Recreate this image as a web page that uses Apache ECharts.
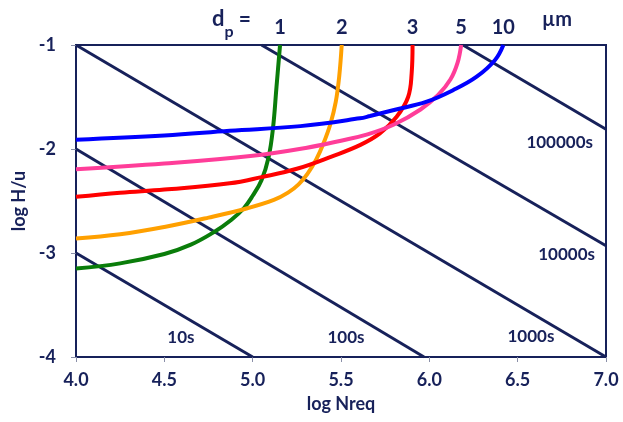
<!DOCTYPE html>
<html>
<head>
<meta charset="utf-8">
<script src="https://cdn.jsdelivr.net/npm/echarts@6.0.0/dist/echarts.min.js"></script>
<style>html,body{margin:0;padding:0;background:#fff;}#c{width:623px;height:422px;}</style>
</head>
<body>
<div id="c"></div>
<script>
// ---- data (log Nreq, log H/u) ----
var xTicks = [4.0, 4.5, 5.0, 5.5, 6.0, 6.5, 7.0];
var yTicks = [-4, -3, -2, -1];
var particleSizes = ['1', '2', '3', '5', '10'];
var curve1 = [[4.0,-3.15],[4.25,-3.10],[4.5,-3.01],[4.65,-2.92],[4.78,-2.80],[4.88,-2.68],[4.95,-2.57],[5.0,-2.45],[5.05,-2.30],[5.09,-2.08],[5.115,-1.80],[5.135,-1.40],[5.155,-1.0]];
var curve2 = [[4.0,-2.86],[4.25,-2.82],[4.5,-2.75],[4.75,-2.66],[4.97,-2.57],[5.12,-2.49],[5.2,-2.42],[5.26,-2.34],[5.31,-2.24],[5.36,-2.10],[5.40,-1.95],[5.44,-1.76],[5.47,-1.55],[5.49,-1.30],[5.504,-1.0]];
var curve3 = [[4.0,-2.46],[4.25,-2.42],[4.5,-2.39],[4.87,-2.33],[5.05,-2.27],[5.25,-2.19],[5.45,-2.07],[5.61,-1.96],[5.72,-1.85],[5.815,-1.69],[5.88,-1.50],[5.90,-1.27],[5.905,-1.0]];
var curve5 = [[4.0,-2.195],[4.5,-2.14],[5.0,-2.065],[5.3,-1.99],[5.5,-1.92],[5.65,-1.86],[5.8,-1.765],[5.95,-1.62],[6.05,-1.48],[6.12,-1.33],[6.16,-1.17],[6.18,-1.0]];
var curve10 = [[4.0,-1.91],[4.5,-1.87],[4.87,-1.825],[5.27,-1.78],[5.607,-1.705],[5.664,-1.683],[5.8,-1.625],[5.985,-1.545],[6.136,-1.433],[6.268,-1.305],[6.372,-1.144],[6.419,-1.0]];
var time10 = [[4.0,-3.0],[5.0,-4.0]];
var time100 = [[4.0,-2.0],[5.97,-4.0]];
var time1000 = [[4.0,-1.0],[7.0,-4.0]];
var time10000 = [[5.05,-1.0],[7.0,-2.93]];
var time100000 = [[6.19,-1.0],[7.0,-1.81]];
var timeLabels = [[4.594,-3.808,'10s'],[5.528,-3.808,'100s'],[6.575,-3.805,'1000s'],[6.777,-3.019,'10000s'],[6.738,-1.9375,'100000s']];

var NAVY = '#17215a';
var FONT = 'Lato, "Open Sans", sans-serif';
var curveColors = ['#0a7d0a', '#ffa000', '#ff0000', '#ff3d99', '#0000ff'];
var curves = [curve1, curve2, curve3, curve5, curve10];

var series = [];
[time10, time100, time1000, time10000, time100000].forEach(function (d) {
  series.push({
    type: 'line', data: d, showSymbol: false, silent: true,
    lineStyle: { color: NAVY, width: 3 }, z: 2
  });
});
curves.forEach(function (d, i) {
  series.push({
    type: 'line', data: d, smooth: 0.4, showSymbol: false, symbol: 'none', silent: true,
    lineStyle: { color: curveColors[i], width: 4 }, z: 3
  });
});
// particle size labels above the top end of each curve
series.push({
  type: 'scatter', symbolSize: 1, silent: true, z: 5,
  itemStyle: { opacity: 0 },
  data: curves.map(function (d, i) { var p = d[d.length - 1]; return [p[0], p[1], particleSizes[i]]; }),
  label: { show: true, position: 'top', distance: 7, opacity: 1,
    formatter: function (p) { return p.value[2]; },
    color: NAVY, fontSize: 20, fontWeight: 'bold', fontFamily: FONT }
});
series.push({
  type: 'scatter', symbolSize: 1, data: timeLabels, silent: true, z: 5,
  itemStyle: { opacity: 0 },
  label: { show: true, position: 'inside', opacity: 1, formatter: function (p) { return p.value[2]; },
    color: NAVY, fontSize: 17, fontWeight: 'bold', fontFamily: FONT }
});

var chart = echarts.init(document.getElementById('c'), null, { renderer: 'canvas' });
chart.setOption({
  animation: false,
  backgroundColor: '#fff',
  grid: { left: 76, right: 17, top: 45, bottom: 65, containLabel: false, outerBoundsMode: 'none',
    show: true, borderColor: NAVY, borderWidth: 2, backgroundColor: 'transparent' },
  xAxis: {
    type: 'value', min: 4, max: 7, interval: 0.5,
    name: 'log Nreq', nameLocation: 'middle', nameGap: 38,
    nameTextStyle: { color: NAVY, fontSize: 18, fontWeight: 'bold', fontFamily: FONT },
    axisLine: { show: true, lineStyle: { color: NAVY, width: 2 } },
    axisTick: { show: true, length: 5, lineStyle: { color: '#8a8fa8', width: 1 } },
    splitLine: { show: false },
    axisLabel: { margin: 14, color: NAVY, fontSize: 18, fontWeight: 'bold', fontFamily: FONT,
      formatter: function (v) { return xTicks.indexOf(v) >= 0 ? v.toFixed(1) : ''; } }
  },
  yAxis: {
    type: 'value', min: -4, max: -1, interval: 1,
    name: 'log H/u', nameLocation: 'middle', nameGap: 44,
    nameTextStyle: { color: NAVY, fontSize: 18, fontWeight: 'bold', fontFamily: FONT },
    axisLine: { show: true, lineStyle: { color: NAVY, width: 2 } },
    axisTick: { show: true, length: 5, lineStyle: { color: '#8a8fa8', width: 1 } },
    splitLine: { show: false },
    axisLabel: { margin: 20, color: NAVY, fontSize: 18, fontWeight: 'bold', fontFamily: FONT,
      formatter: function (v) { return yTicks.indexOf(v) >= 0 ? String(v) : ''; } }
  },
  graphic: [
    { type: 'text', left: 212, top: 8, silent: true, z: 10,
      style: { text: '{d|d}{p|p}{e| =}', rich: {
        d: { fontSize: 22, fontWeight: 'bold', fontFamily: FONT, fill: NAVY },
        p: { fontSize: 16, fontWeight: 'bold', fontFamily: FONT, fill: NAVY, verticalAlign: 'bottom', padding: [0, 0, -10, 0] },
        e: { fontSize: 21, fontWeight: 'bold', fontFamily: FONT, fill: NAVY }
      } } },
    { type: 'text', left: 542, top: 10, silent: true, z: 10,
      style: { text: 'µm', fontSize: 20, fontWeight: 'bold', fontFamily: FONT, fill: NAVY } }
  ],
  series: series
});
</script>
</body>
</html>
